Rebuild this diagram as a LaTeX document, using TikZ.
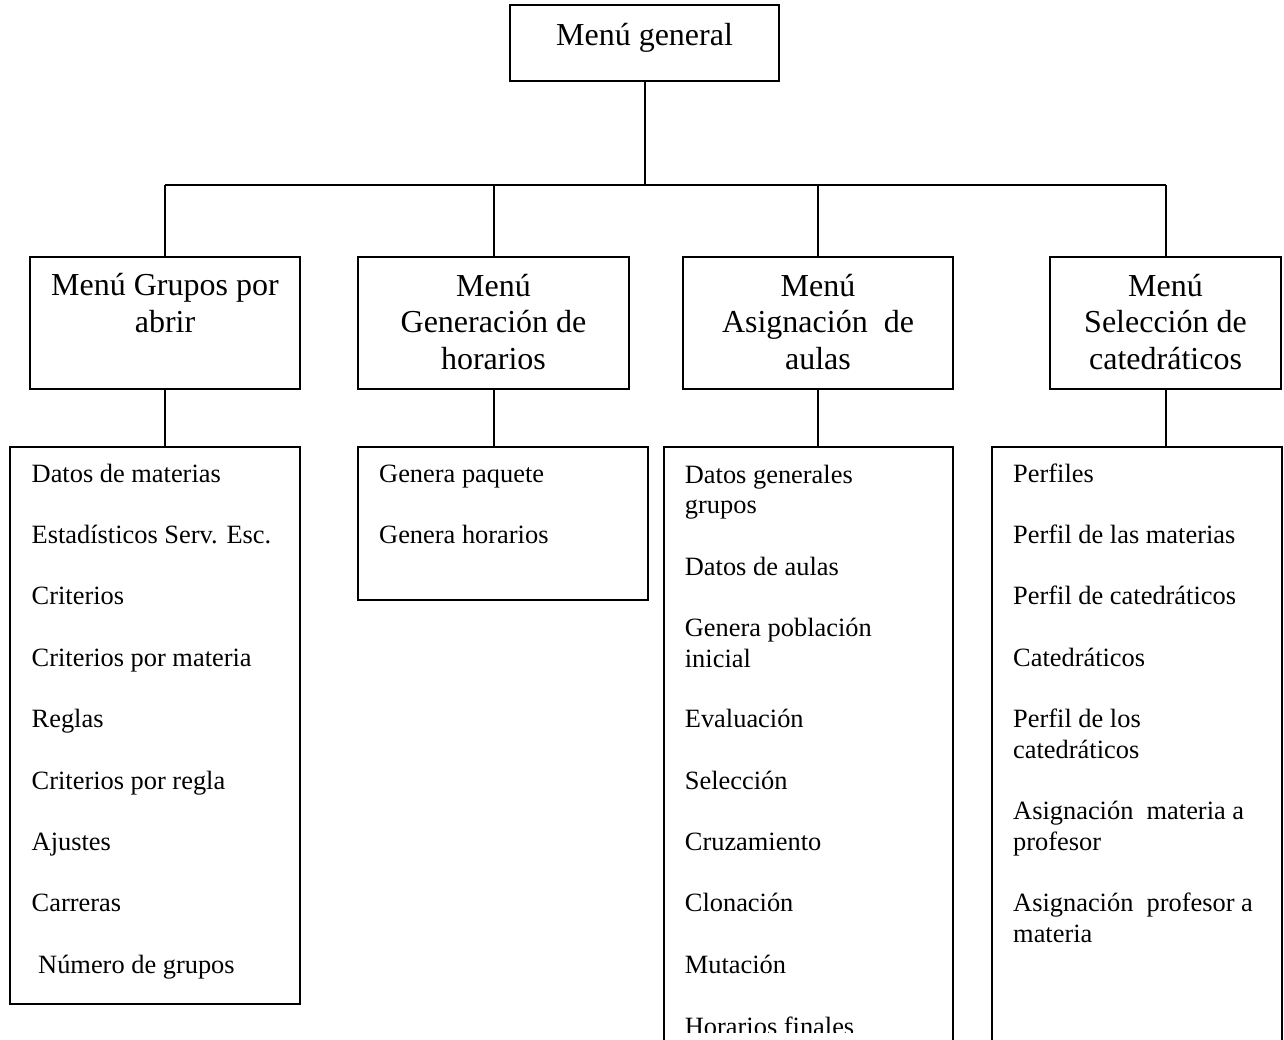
\documentclass[tikz,border=0pt]{standalone}
\usepackage{fontspec}
\setmainfont{Liberation Serif}
\begin{document}
\begin{tikzpicture}[x=1pt,y=-1pt,
  box/.style={draw, line width=2pt, inner sep=0pt, outer sep=0pt, anchor=north west},
  link/.style={line width=2pt},
  % multi-line labels: the base anchor sits on the baseline of the last line
  head/.style={font=\fontsize{32}{36.7}\selectfont, align=center, anchor=base, inner sep=0pt},
  item/.style={font=\fontsize{26.4}{30.7}\selectfont, align=left, anchor=base west, inner sep=0pt}]
\useasboundingbox (0,0) rectangle (1284,1040);
\clip (0,0) rectangle (1284,1040);

% top level
\node[box, minimum width=269pt, minimum height=76.5pt] (top) at (510,5) {};
\node[head] (topT) at (644.5,46) {Menú general};

% second level boxes
\node[box, minimum width=270pt, minimum height=132pt] (g1) at (30,257) {};
\node[box, minimum width=271pt, minimum height=132pt] (g2) at (358,257) {};
\node[box, minimum width=270pt, minimum height=132pt] (g3) at (683,257) {};
\node[box, minimum width=231pt, minimum height=132pt] (g4) at (1050,257) {};

\node[head] (g1T) at (165,332.6) {Menú Grupos por\\abrir};
\node[head] (g2T) at (493.5,369.6) {Menú\\Generación de\\horarios};
\node[head] (g3T) at (818,369.6) {Menú\\Asignación~ de\\aulas};
\node[head] (g4T) at (1165.5,369.6) {Menú\\Selección de\\catedráticos};

% list boxes
\node[box, minimum width=290pt, minimum height=557pt] (l1) at (10,447) {};
\node[box, minimum width=290pt, minimum height=153pt] (l2) at (358,447) {};
\node[box, minimum width=289pt, minimum height=620pt] (l3) at (664,447) {};
\node[box, minimum width=290pt, minimum height=620pt] (l4) at (992,447) {};

% connectors
\coordinate (bus) at (644.5,185);
\draw[link] (top.south) -- (bus);
\draw[link] (g1.north |- bus) -- (g4.north |- bus);
\foreach \g in {g1,g2,g3,g4} \draw[link] (\g.north |- bus) -- (\g.north);
\draw[link] (g1.south) -- (g1.south |- l1.north);
\draw[link] (g2.south) -- (g2.south |- l2.north);
\draw[link] (g3.south) -- (g3.south |- l3.north);
\draw[link] (g4.south) -- (g4.south |- l4.north);

% items of the first list
\node[item] (a1) at (31.5,482) {Datos de materias};
\node[item] (a2) at (31.5,543.4) {Estadísticos Serv. Esc.};
\node[item] (a3) at (31.5,604.8) {Criterios};
\node[item] (a4) at (31.5,666.2) {Criterios por materia};
\node[item] (a5) at (31.5,727.6) {Reglas};
\node[item] (a6) at (31.5,789) {Criterios por regla};
\node[item] (a7) at (31.5,850.4) {Ajustes};
\node[item] (a8) at (31.5,911.8) {Carreras};
\node[item] (a9) at (38,973.2) {Número de grupos};

% items of the second list
\node[item] (b1) at (379,482) {Genera paquete};
\node[item] (b2) at (379,543.4) {Genera horarios};

% items of the third list
\node[item] (c1) at (684.7,513.7) {Datos generales\\grupos};
\node[item] (c2) at (684.7,575) {Datos de aulas};
\node[item] (c3) at (684.7,667.1) {Genera población\\inicial};
\node[item] (c4) at (684.7,727.6) {Evaluación};
\node[item] (c5) at (684.7,789) {Selección};
\node[item] (c6) at (684.7,850.4) {Cruzamiento};
\node[item] (c7) at (684.7,911.8) {Clonación};
\node[item] (c8) at (684.7,973.2) {Mutación};
\begin{scope}
  \clip (664,447) rectangle (953,1032.5);
  \node[item] (c9) at (684.7,1035) {Horarios finales};
\end{scope}

% items of the fourth list
\node[item] (d1) at (1013,482) {Perfiles};
\node[item] (d2) at (1013,543.4) {Perfil de las materias};
\node[item] (d3) at (1013,604.8) {Perfil de catedráticos};
\node[item] (d4) at (1013,666.2) {Catedráticos};
\node[item] (d5) at (1013,758.3) {Perfil de los\\catedráticos};
\node[item] (d6) at (1013,850.4) {Asignación~ materia a\\profesor};
\node[item] (d7) at (1013,942.5) {Asignación~ profesor a\\materia};
\end{tikzpicture}
\end{document}
